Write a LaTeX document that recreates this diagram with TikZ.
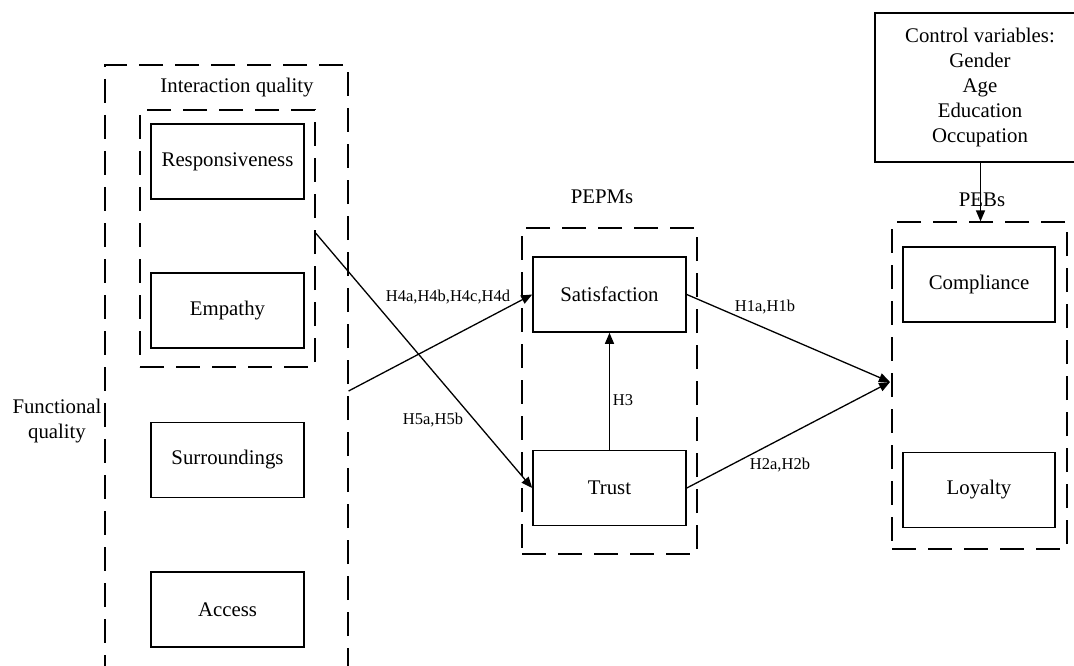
\documentclass[tikz,border=0pt]{standalone}
\usepackage{fontspec}
\setmainfont{Liberation Serif}
\usetikzlibrary{arrows.meta}
\tikzset{
  box/.style={draw, line width=1.6pt, minimum width=153pt, minimum height=75pt,
    inner sep=0pt, font=\fontsize{20.8}{25}\selectfont, align=center},
  grp/.style={draw, line width=1.2pt, dash pattern=on 24pt off 12pt, inner sep=0pt},
  title/.style={font=\fontsize{20.8}{25}\selectfont, align=center, inner sep=0pt},
  hyp/.style={font=\fontsize{16.5}{20}\selectfont, inner sep=0pt},
  link/.style={line width=1.3pt, -{Triangle[length=11pt,width=9pt]}},
}
\begin{document}
\begin{tikzpicture}[x=1pt,y=-1pt]
\useasboundingbox (0,0) rectangle (1074,666);
\clip (0,0) rectangle (1074,666);
\fill[white] (0,0) rectangle (1074,666);

% functional quality group
\node[grp, minimum width=243pt, minimum height=652pt] (fq) at (226.5,391) {};
\node[title] (fqlab) at (57,421) {Functional\\quality};
\node[grp, minimum width=175pt, minimum height=257pt] (iq) at (227.5,238.5) {};
\node[title] (iqlab) at (237,88) {Interaction quality};
\node[box] (resp) at (227.5,161.5) {Responsiveness};
\node[box] (emp)  at (227.5,310.5) {Empathy};
\node[box] (sur)  at (227.5,460) {Surroundings};
\node[box] (acc)  at (227.5,609.5) {Access};

% mediators
\node[grp, minimum width=175pt, minimum height=326pt] (pepm) at (609.5,391) {};
\node[title] (pepmlab) at (602,197) {PEPMs};
\node[box] (sat)   at (609.5,294.5) {Satisfaction};
\node[box] (trust) at (609.5,488) {Trust};

% outcomes
\node[grp, minimum width=175pt, minimum height=327pt] (peb) at (979.5,385.5) {};
\node[title] (peblab) at (982,200) {PEBs};
\node[box, minimum width=152pt] (comp) at (979,284.5) {Compliance};
\node[box, minimum width=152pt] (loy)  at (979,490) {Loyalty};
\coordinate (pebin) at (890,382);

% control variables
\node[box, minimum width=210pt, minimum height=149pt] (ctrl) at (980,87.5)
  {Control variables:\\Gender\\Age\\Education\\Occupation};

% paths
\draw[link] (iq.east |- 0,233) -- (trust.west);
\draw[link] (fq.east) -- (sat.west);
\draw[link] (trust.north) -- (sat.south);
\draw[link] (sat.east) -- (pebin);
\draw[link] (trust.east) -- (pebin);
\draw[link] (ctrl.south -| 980.5,0) -- (peb.north -| 980.5,0);

% path labels
\node[hyp] (l4) at (448,297) {H4a,H4b,H4c,H4d};
\node[hyp] (l5) at (433,420) {H5a,H5b};
\node[hyp] (l3) at (623,400) {H3};
\node[hyp] (l1) at (765,307) {H1a,H1b};
\node[hyp] (l2) at (780,465) {H2a,H2b};
\end{tikzpicture}
\end{document}
